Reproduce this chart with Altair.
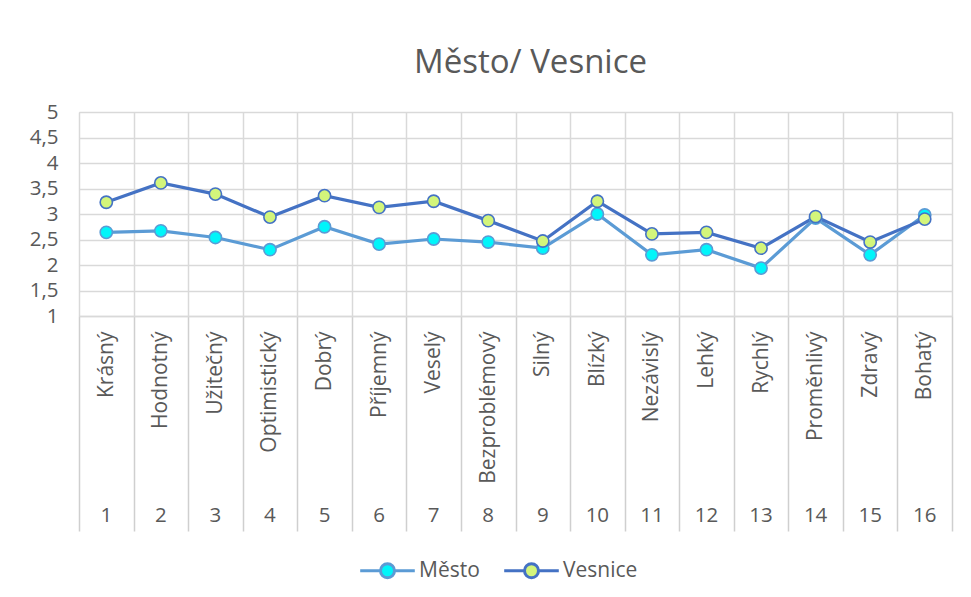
import altair as alt
import pandas as pd

FONT = "Open Sans"
TXT = "#595959"
GRID = "#D9D9D9"

idx = list(range(1, 17))
words = ["Krásný", "Hodnotný", "Užitečný", "Optimistický", "Dobrý", "Příjemný",
         "Veselý", "Bezproblémový", "Silný", "Blízký", "Nezávislý", "Lehký",
         "Rychlý", "Proměnlivý", "Zdravý", "Bohatý"]
mesto = [2.64, 2.67, 2.54, 2.30, 2.75, 2.41, 2.51, 2.45,
         2.33, 3.00, 2.20, 2.30, 1.94, 2.92, 2.20, 2.98]
vesnice = [3.23, 3.61, 3.39, 2.94, 3.36, 3.13, 3.25, 2.87,
           2.47, 3.25, 2.61, 2.64, 2.33, 2.95, 2.45, 2.90]
series = ["Město", "Vesnice"]
line_colors = ["#5B9BD5", "#4472C4"]
fill_colors = ["#00F5FA", "#D3F57B"]
y_ticks = [1, 1.5, 2, 2.5, 3, 3.5, 4, 4.5, 5]

rows = []
for s, vals in zip(series, [mesto, vesnice]):
    for i, w, v in zip(idx, words, vals):
        rows.append({"idx": i, "word": w, "series": s, "value": v})
df = pd.DataFrame(rows)

band = alt.Scale(type="band", paddingInner=0, paddingOuter=0)

word_axis = alt.Axis(orient="bottom", tickBand="extent", grid=True, gridColor=GRID,
                     gridWidth=1.5, ticks=True, tickSize=215, tickColor="#CFCFCF",
                     tickWidth=1.5, domain=True, domainColor=GRID, domainWidth=1.5,
                     labelAngle=270, labelAlign="right", labelBaseline="middle",
                     labelPadding=-200, labelFontSize=21, labelFont=FONT,
                     labelColor=TXT)


def y_enc():
    return alt.Y(
        "value:Q", title=None,
        scale=alt.Scale(domain=[1, 5], nice=False, zero=False),
        axis=alt.Axis(values=y_ticks, grid=True, gridColor=GRID, gridWidth=1.5,
                      ticks=False, domain=False, labelPadding=21, labelFontSize=20.5,
                      labelFont=FONT, labelColor=TXT,
                      labelExpr="replace(format(datum.value, '.1~f'), '.', ',')"),
    )


legend_path = "M-3.9,0H-1M1,0H3.9M-1,0A1,1 0 1,1 1,0A1,1 0 1,1 -1,0Z"


def legend():
    return alt.Legend(title=None, orient="none", direction="horizontal",
                      legendX=298, legendY=448,
                      symbolType=legend_path, symbolSize=196,
                      symbolStrokeWidth=3, labelOffset=21,
                      columnPadding=18, labelFontSize=21,
                      labelFont=FONT, labelColor=TXT, padding=0)


stroke_scale = alt.Scale(domain=series, range=line_colors)
fill_scale = alt.Scale(domain=series, range=fill_colors)

lines = alt.Chart(df).mark_line(strokeWidth=3.2).encode(
    x=alt.X("word:N", sort=words, title=None, scale=band, axis=word_axis),
    y=y_enc(),
    stroke=alt.Stroke("series:N", scale=stroke_scale, legend=legend()),
    detail="series:N",
    order=alt.Order("idx:Q"),
)

points = alt.Chart(df).mark_point(filled=True, size=150, strokeWidth=1.6,
                                  opacity=1).encode(
    x=alt.X("word:N", sort=words, title=None, scale=band, axis=None),
    y=y_enc(),
    fill=alt.Fill("series:N", scale=fill_scale, legend=legend()),
    stroke=alt.Stroke("series:N", scale=stroke_scale, legend=legend()),
)

numbers = alt.Chart(df[df["series"] == "Město"]).mark_point(opacity=0).encode(
    x=alt.X("idx:O", title=None, scale=band,
            axis=alt.Axis(orient="bottom", offset=185, ticks=False, domain=False,
                          grid=False, labelAngle=0, labelPadding=4,
                          labelFontSize=20.5, labelFont=FONT, labelColor=TXT)),
    y=y_enc(),
)

chart = alt.layer(lines, points, numbers).resolve_scale(
    x="independent"
).properties(
    width=873, height=204,
    autosize=alt.AutoSizeParams(type="none"),
    padding={"left": 71, "top": 104, "right": 10, "bottom": 270},
    title=alt.TitleParams("Město/ Vesnice", fontSize=33, font=FONT, color=TXT,
                          fontWeight="normal", anchor="middle", dx=15,
                          baseline="alphabetic", offset=-4),
).configure_view(stroke=None).configure(background="white")

chart.save("out.html", embed_options={"renderer": "svg", "actions": False})
